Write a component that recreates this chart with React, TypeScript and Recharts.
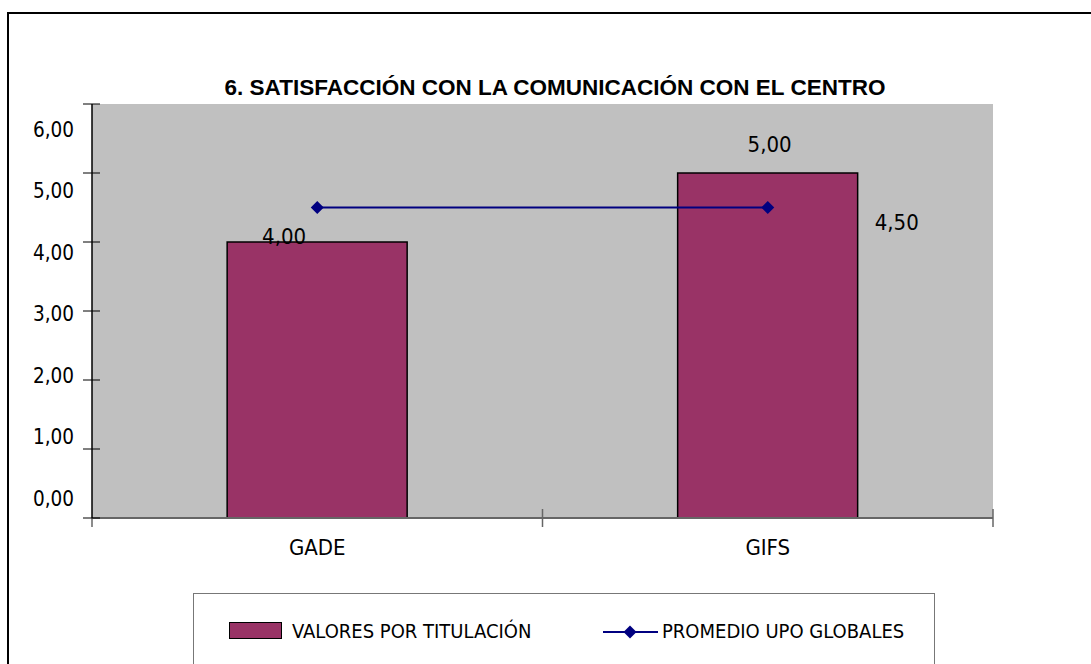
import React from "react";
import {
  Bar,
  CartesianGrid,
  ComposedChart,
  LabelList,
  Line,
  XAxis,
  YAxis,
} from "recharts";

const categories = ["GADE", "GIFS"];
const titulacion = [4.0, 5.0];
const promedioUpo = [4.5, 4.5];
const yTicks = [0, 1, 2, 3, 4, 5, 6];

const data = categories.map((name, i) => ({
  name,
  valor: titulacion[i],
  promedio: promedioUpo[i],
}));

const NARROW = "'Liberation Sans Narrow', 'Arial Narrow', 'DejaVu Sans Condensed', sans-serif";
const BAR_COLOR = "#993366";
const LINE_COLOR = "#000080";
const PLOT_TOP = 90;

// excel put the value labels a bit off their marks
const barLabelShift = [
  { dx: -33, dy: -6 },
  { dx: 2, dy: -29 },
];

const fmt = (v: number) => v.toFixed(2).replace(".", ",");

const YTick = (props: any) => {
  const { x, y, payload } = props;
  const labelY = 116 + (y - PLOT_TOP) * 0.891;
  return (
    <g>
      <line x1={x - 9} x2={x + 8} y1={y} y2={y} stroke="#000" strokeWidth={1} />
      <text
        x={x - 18}
        y={labelY}
        textAnchor="end"
        dominantBaseline="central"
        fontFamily={NARROW}
        fontSize={20.5}
        fill="#000"
      >
        {fmt(payload.value)}
      </text>
    </g>
  );
};

const XTick = (props: any) => {
  const { x, y, payload, index } = props;
  const off = payload.offset ?? 225;
  return (
    <g>
      <line x1={x - off} x2={x - off} y1={index === 0 ? y : y - 9} y2={y + 9} stroke="#666" strokeWidth={1.5} />
      {index === categories.length - 1 && (
        <line x1={x + off} x2={x + off} y1={y - 9} y2={y + 9} stroke="#666" strokeWidth={1.5} />
      )}
      <text
        x={x}
        y={y + 29}
        textAnchor="middle"
        dominantBaseline="central"
        fontFamily={NARROW}
        fontSize={22}
        fill="#000"
      >
        {payload.value}
      </text>
    </g>
  );
};

const BarValue = (props: any) => {
  const { x, y, width, value, index } = props;
  const s = barLabelShift[index] || { dx: 0, dy: -20 };
  return (
    <text
      x={x + width / 2 + s.dx}
      y={y + s.dy}
      textAnchor="middle"
      dominantBaseline="central"
      fontFamily={NARROW}
      fontSize={22}
      fill="#000"
    >
      {fmt(value)}
    </text>
  );
};

const LineValue = (props: any) => {
  const { x, y, value, index } = props;
  if (index !== categories.length - 1) return null;
  return (
    <text
      x={x + 129}
      y={y + 15}
      textAnchor="middle"
      dominantBaseline="central"
      fontFamily={NARROW}
      fontSize={22}
      fill="#000"
    >
      {fmt(value)}
    </text>
  );
};

const Diamond = (props: any) => {
  const { cx, cy } = props;
  if (cx == null || cy == null) return null;
  const r = 6.5;
  return (
    <polygon
      points={`${cx},${cy - r} ${cx + r},${cy} ${cx},${cy + r} ${cx - r},${cy}`}
      fill={LINE_COLOR}
    />
  );
};

const LegendBox = () => (
  <div
    style={{
      position: "absolute",
      left: 184,
      top: 579,
      width: 742,
      height: 80,
      boxSizing: "border-box",
      borderTop: "1.5px solid #777",
      borderLeft: "1.5px solid #777",
      borderRight: "1.5px solid #777",
      background: "#fff",
      fontFamily: NARROW,
      fontSize: 20,
      color: "#000",
    }}
  >
    <div
      style={{
        position: "absolute",
        left: 35,
        top: 28,
        width: 51,
        height: 15,
        background: BAR_COLOR,
        border: "1.5px solid #000",
      }}
    />
    <span style={{ position: "absolute", left: 98, top: 25, lineHeight: "24px", whiteSpace: "nowrap" }}>
      VALORES POR TITULACIÓN
    </span>
    <svg style={{ position: "absolute", left: 409, top: 30 }} width={56} height={16}>
      <line x1={0} x2={55} y1={8} y2={8} stroke={LINE_COLOR} strokeWidth={2} />
      <polygon points="27,1.5 33.5,8 27,14.5 20.5,8" fill={LINE_COLOR} />
    </svg>
    <span style={{ position: "absolute", left: 468, top: 25, lineHeight: "24px", whiteSpace: "nowrap" }}>
      PROMEDIO UPO GLOBALES
    </span>
  </div>
);

export default function App() {
  return (
    <div
      style={{
        position: "absolute",
        left: 7,
        top: 12,
        width: 1084,
        height: 652,
        boxSizing: "border-box",
        borderTop: "2px solid #000",
        borderLeft: "2px solid #000",
        background: "#fff",
        overflow: "hidden",
      }}
    >
      <div
        style={{
          position: "absolute",
          left: 0,
          top: 62,
          width: 1092,
          textAlign: "center",
          fontFamily: "'Liberation Sans', Arial, sans-serif",
          fontWeight: "bold",
          fontSize: 22.5,
          lineHeight: "24px",
          color: "#000",
        }}
      >
        6. SATISFACCIÓN CON LA COMUNICACIÓN CON EL CENTRO
      </div>
      <ComposedChart
        width={1082}
        height={650}
        data={data}
        barCategoryGap="30%"
        margin={{ top: PLOT_TOP, right: 98, left: 0, bottom: 106 }}
      >
        <CartesianGrid fill="#c0c0c0" stroke="none" horizontal={false} vertical={false} />
        <XAxis
          dataKey="name"
          axisLine={{ stroke: "#666", strokeWidth: 2 }}
          tickLine={false}
          tickSize={0}
          tickMargin={0}
          height={40}
          tick={<XTick />}
        />
        <YAxis
          domain={[0, 6]}
          ticks={yTicks}
          width={83}
          axisLine={{ stroke: "#000", strokeWidth: 1.5 }}
          tickLine={false}
          tickSize={0}
          tickMargin={0}
          tick={<YTick />}
        />
        <Bar dataKey="valor" fill={BAR_COLOR} stroke="#000" strokeWidth={1.5} isAnimationActive={false}>
          <LabelList dataKey="valor" content={<BarValue />} />
        </Bar>
        <Line
          dataKey="promedio"
          stroke={LINE_COLOR}
          strokeWidth={2}
          dot={<Diamond />}
          activeDot={false}
          isAnimationActive={false}
        >
          <LabelList dataKey="promedio" content={<LineValue />} />
        </Line>
      </ComposedChart>
      <LegendBox />
    </div>
  );
}
